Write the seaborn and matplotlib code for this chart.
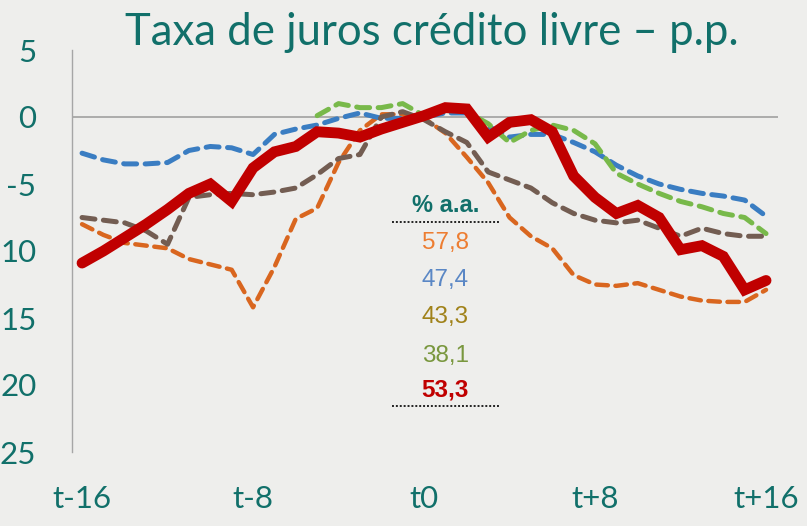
import numpy as np
import pandas as pd
import matplotlib.pyplot as plt
import seaborn as sns

# periods around the event (t-16 ... t+16)
periods = list(range(-16, 17))
x_ticks = [-16, -8, 0, 8, 16]
x_tick_labels = ["t-16", "t-8", "t0", "t+8", "t+16"]
y_ticks = [5, 0, -5, -10, -15, -20, -25]
y_tick_labels = ["5", "0", "-5", "10", "15", "20", "25"]  # as printed on the slide (minus cut off)

# series, p.p. change vs t0
orange = [-8.0, -8.8, -9.4, -9.6, -9.8, -10.6, -11.0, -11.4, -14.2, -11.2, -7.6,
          -6.8, -3.4, -1.0, 0.2, 0.2, -0.1, -1.2, -3.0, -4.9, -7.5, -8.9,
          -9.8, -11.8, -12.5, -12.6, -12.4, -12.9, -13.4, -13.7, -13.8, -13.8, -12.9]
blue = [-2.7, -3.2, -3.5, -3.5, -3.4, -2.5, -2.2, -2.3, -2.8, -1.3, -0.9,
        -0.6, -0.1, 0.3, -0.1, -0.1, 0.0, 0.3, 0.3, -0.7, -1.5, -1.3,
        -1.3, -1.9, -2.6, -3.6, -4.4, -5.0, -5.4, -5.7, -5.9, -6.2, -7.4]
brown = [-7.5, -7.7, -7.9, -8.5, -9.5, -6.0, -5.8, -5.7, -5.8, -5.6, -5.3,
         -4.3, -3.1, -2.8, 0.0, 0.4, -0.2, -1.1, -1.9, -4.1, -4.7, -5.3,
         -6.4, -7.2, -7.7, -7.9, -7.7, -8.3, -8.9, -8.3, -8.7, -8.9, -8.9]
green = [np.nan] * 11 + [0.1, 1.0, 0.7, 0.7, 1.0, 0.1, 0.5, 0.4, -0.5, -1.9, -1.0,
                         -0.6, -1.0, -2.0, -4.2, -5.0, -5.7, -6.3, -6.7, -7.2, -7.5, -8.7]
red = [-10.9, -10.0, -9.0, -8.0, -6.9, -5.7, -5.0, -6.3, -3.8, -2.6, -2.2,
       -1.1, -1.2, -1.5, -0.9, -0.4, 0.1, 0.7, 0.6, -1.5, -0.4, -0.2,
       -1.1, -4.4, -6.0, -7.2, -6.6, -7.5, -9.9, -9.6, -10.4, -12.9, -12.2]

# legend box: current rate (% a.a.)
rate_labels = ["57,8", "47,4", "43,3", "38,1", "53,3"]
rate_colors = ["#ED7D31", "#5A87C5", "#A0821A", "#79973E", "#C00000"]
rate_y = [-9.4, -12.2, -14.9, -17.8, -20.4]

teal = "#11706A"
bg = "#EEEEEC"

sns.set_style("white")
plt.rcParams['font.family'] = ['Lato', 'DejaVu Sans']

fig = plt.figure(figsize=(8.07, 5.26), dpi=100, facecolor=bg)
ax = fig.add_axes([72 / 807, 1 - 452 / 526, 706 / 807, 402 / 526])
ax.set_facecolor(bg)

ax.axhline(0, color="#A6A6A6", lw=1.3, zorder=1)

dash = (0, (2.6, 1.7))
sns.lineplot(x=periods, y=orange, ax=ax, color="#D9661F", lw=3.2, linestyle=dash,
             dash_capstyle="round", estimator=None, zorder=2)
sns.lineplot(x=periods, y=blue, ax=ax, color="#3A7DC2", lw=3.6, linestyle=dash,
             dash_capstyle="round", estimator=None, zorder=3)
sns.lineplot(x=periods, y=green, ax=ax, color="#78B94A", lw=3.6, linestyle=dash,
             dash_capstyle="round", estimator=None, zorder=4)
sns.lineplot(x=periods, y=brown, ax=ax, color="#735D52", lw=3.6, linestyle=dash,
             dash_capstyle="round", estimator=None, zorder=5)
sns.lineplot(x=periods, y=red, ax=ax, color="#C00000", lw=7.8,
             solid_joinstyle="miter", estimator=None, zorder=6)

ax.set_xlim(-16.47, 16.56)
ax.set_ylim(-25, 5)
ax.set_xticks(x_ticks)
ax.set_xticklabels(x_tick_labels)
ax.set_yticks(y_ticks)
ax.set_yticklabels(y_tick_labels)
ax.tick_params(axis="x", length=0, pad=24, labelsize=22.5, labelcolor=teal)
ax.tick_params(axis="y", length=8.6, width=1, color="#A6A6A6", pad=17,
               labelsize=22.5, labelcolor=teal, direction="out")
for s in ["top", "right", "bottom"]:
    ax.spines[s].set_visible(False)
ax.spines["left"].set_color("#A6A6A6")
ax.spines["left"].set_linewidth(1)

# rate box
ax.text(1.0, -6.6, "% a.a.", ha="center", va="center", fontsize=17, fontweight="bold",
        color=teal, family=["Liberation Sans", "DejaVu Sans"], zorder=7)
for lab, col, yy in zip(rate_labels, rate_colors, rate_y):
    ax.text(1.0, yy, lab, ha="center", va="center", fontsize=17.5, color=col,
            fontweight="bold" if lab == "53,3" else "normal",
            family=["Liberation Sans", "DejaVu Sans"], zorder=7)
for yy in [-7.8, -21.6]:
    ax.plot([-1.5, 3.5], [yy, yy], color="#222222", lw=1.4, linestyle=(0, (1, 1)), zorder=7)

fig.text(0.535, 1 - 45 / 526, "Taxa de juros crédito livre – p.p.", ha="center",
         va="baseline", fontsize=31.5, color=teal)

fig.savefig("out.png", dpi=100, facecolor=bg)
